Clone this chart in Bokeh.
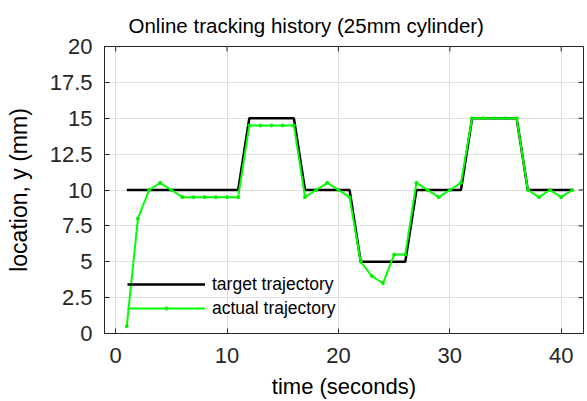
import math
from bokeh.plotting import figure
from bokeh.models import FixedTicker, Legend
from bokeh.embed import file_html
from bokeh.resources import INLINE

# ---- data ----
time_s = list(range(1, 42))
target = [10]*11 + [15]*5 + [10]*5 + [5]*5 + [10]*5 + [15]*5 + [10]*5
actual = [0.5, 8, 10, 10.5, 10, 9.5, 9.5, 9.5, 9.5, 9.5, 9.5,
          14.5, 14.5, 14.5, 14.5, 14.5,
          9.5, 10, 10.5, 10, 9.5,
          5, 4, 3.5, 5.5, 5.5,
          10.5, 10, 9.5, 10, 10.5,
          15, 15, 15, 15, 15,
          10, 9.5, 10, 9.5, 10]
x_ticks = [0, 10, 20, 30, 40]
y_ticks = [0, 2.5, 5, 7.5, 10, 12.5, 15, 17.5, 20]
y_tick_labels = ["0", "2.5", "5", "7.5", "10", "12.5", "15", "17.5", "20"]
x_lim = (-1, 42)
y_lim = (0, 20)

FONT = "Liberation Sans"
FRAME = "#262626"

p = figure(width=587, height=401, x_range=x_lim, y_range=y_lim,
           output_backend="svg", toolbar_location=None,
           min_border_left=104, min_border_right=4, min_border_top=46,
           min_border_bottom=68)

p.title.text = "Online tracking history (25mm cylinder)"
p.title.text_font = FONT
p.title.text_font_size = "20.5px"
p.title.text_font_style = "normal"
p.title.align = "left"
p.title.offset = 24
p.title.standoff = 19
p.title.text_color = "#000000"

p.outline_line_color = FRAME
p.outline_line_width = 1
p.background_fill_color = "white"
p.border_fill_color = "white"

for ax in (p.xaxis[0], p.yaxis[0]):
    ax.major_label_text_font = FONT
    ax.major_label_text_font_size = "22px"
    ax.major_label_text_color = "#262626"
    ax.axis_label_text_font = FONT
    ax.axis_label_text_font_style = "normal"
    ax.axis_label_text_color = "#000000"
    ax.axis_line_color = FRAME
    ax.major_tick_line_color = FRAME
    ax.major_tick_in = 5
    ax.major_tick_out = 0
    ax.minor_tick_line_color = None

p.xaxis.ticker = FixedTicker(ticks=x_ticks)
p.yaxis.ticker = FixedTicker(ticks=y_ticks)
p.yaxis.major_label_overrides = {v: s for v, s in zip(y_ticks, y_tick_labels)}
p.xaxis.axis_label = "time (seconds)"
p.yaxis.axis_label = "location, y (mm)"
p.xaxis.axis_label_text_font_size = "22px"
p.yaxis.axis_label_text_font_size = "23px"
p.xaxis.major_label_standoff = 14
p.yaxis.major_label_standoff = 12
p.xaxis.axis_label_standoff = 8
p.yaxis.axis_label_standoff = 15

p.xgrid.ticker = FixedTicker(ticks=x_ticks)
p.ygrid.ticker = FixedTicker(ticks=y_ticks)
p.grid.grid_line_color = "#dfdfdf"
p.grid.grid_line_width = 1

# mirrored inward ticks on top and right edges of the box
p.ray(x=x_ticks, y=[y_lim[1]]*len(x_ticks), length=5, length_units="screen",
      angle=-math.pi/2, line_color=FRAME, line_width=1)
p.ray(x=[x_lim[1]]*len(y_ticks), y=y_ticks, length=5, length_units="screen",
      angle=math.pi, line_color=FRAME, line_width=1)

r1 = p.line(time_s, target, line_color="black", line_width=2.5)
r2 = p.line(time_s, actual, line_color="#00ff00", line_width=2)
r3 = p.scatter(time_s, actual, marker="circle", size=3, fill_color="#00ee00",
               line_color="#00ee00")

legend = Legend(items=[("target trajectory", [r1]), ("actual trajectory", [r2, r3])],
                location=(23, 13), padding=0, margin=0, spacing=0,
                glyph_width=78, glyph_height=8, label_height=24,
                label_standoff=7, label_text_font=FONT, label_text_font_size="17.5px",
                label_text_color="#000000",
                border_line_alpha=0, background_fill_alpha=0)
p.add_layout(legend, "center")

open("out.html", "w").write(file_html(p, INLINE))
